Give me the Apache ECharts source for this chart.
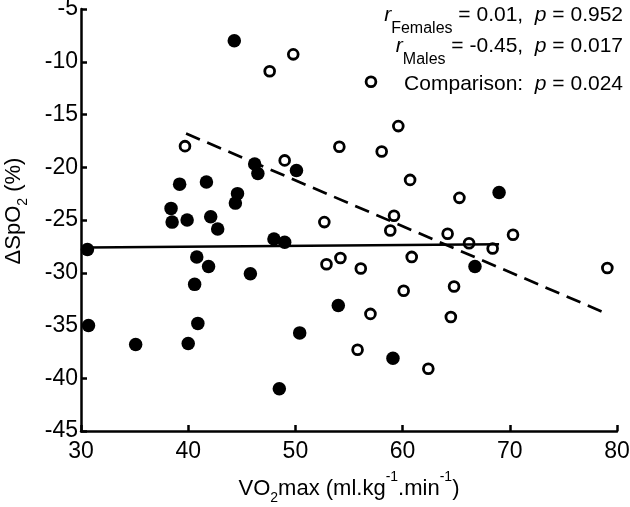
<!DOCTYPE html>
<html>
<head>
<meta charset="utf-8">
<script src="https://cdn.jsdelivr.net/npm/echarts@6/dist/echarts.min.js"></script>
<style>html,body{margin:0;padding:0;background:#fff}#c{width:630px;height:507px}</style>
</head>
<body>
<div id="c"></div>
<script>
// Females (filled circles)
var femaleVO2 = [44.3, 30.6, 30.7, 35.1, 39.2, 38.4, 38.5, 39.9, 41.7, 42.1, 42.75, 44.6, 44.4, 46.2, 46.5, 40.8, 41.9, 40.6, 45.8, 40.0, 40.9, 48.5, 50.4, 54.0, 59.1, 50.1, 48.0, 49.0, 69.0, 66.75];
var femaleSpO2 = [-8.0, -27.8, -35.0, -36.8, -21.6, -23.9, -25.2, -25.0, -21.4, -24.7, -25.85, -22.5, -23.4, -19.7, -20.6, -28.5, -29.4, -31.1, -30.1, -36.7, -34.8, -41.0, -35.7, -33.1, -38.1, -20.3, -26.8, -27.1, -22.4, -29.4];
// Males (open circles)
var maleVO2 = [39.7, 47.6, 49.8, 57.05, 59.6, 54.1, 58.05, 60.7, 65.3, 49.0, 52.7, 59.2, 58.85, 52.9, 54.2, 56.1, 60.85, 60.1, 64.2, 66.2, 68.4, 70.3, 64.8, 79.1, 64.5, 57.0, 55.8, 62.4];
var maleSpO2 = [-18.0, -10.9, -9.3, -11.9, -16.1, -18.05, -18.5, -21.2, -22.9, -19.35, -25.2, -24.6, -26.0, -29.2, -28.6, -29.6, -28.5, -31.7, -26.3, -27.2, -27.7, -26.4, -31.3, -29.55, -34.2, -33.9, -37.3, -39.1];
// Regression line end points
var femaleFitX = [30.6, 69.0];
var femaleFitY = [-27.6, -27.3];
var maleFitX = [39.8, 79.1];
var maleFitY = [-16.8, -33.9];
// Axis ticks
var xTicks = [30, 40, 50, 60, 70, 80];
var yTicks = [-45, -40, -35, -30, -25, -20, -15, -10, -5];
// Annotation texts
var statFemales = ['Females', '0.01', '0.952'];
var statMales = ['Males', '-0.45', '0.017'];
var statComparison = '0.024';

function zip(a, b) { return a.map(function (v, i) { return [v, b[i]]; }); }
var FF = '"Liberation Sans", Arial, Helvetica, sans-serif';
var chart = echarts.init(document.getElementById('c'), null, {renderer: 'canvas'});

var richAnno = {
  n: {fontFamily: FF, fontSize: 21, color: '#000', lineHeight: 40, verticalAlign: 'top'},
  i: {fontFamily: FF, fontSize: 21, fontStyle: 'italic', color: '#000', lineHeight: 40, verticalAlign: 'top'},
  sub: {fontFamily: FF, fontSize: 16, color: '#000', lineHeight: 40, verticalAlign: 'top', padding: [16, 0, 0, 0]}
};

chart.setOption({
  animation: false,
  backgroundColor: '#fff',
  grid: {left: 81, right: 13, top: 9, bottom: 76, containLabel: false, outerBoundsMode: 'none'},
  xAxis: {
    type: 'value', min: xTicks[0], max: xTicks[xTicks.length - 1], interval: 10,
    axisLine: {onZero: false, lineStyle: {color: '#000', width: 2.5}},
    axisTick: {inside: true, length: 6, lineStyle: {color: '#000', width: 2.5}},
    axisLabel: {color: '#000', fontFamily: FF, fontSize: 23, margin: 9},
    splitLine: {show: false},
    name: '{n|VO}{sub|2}{n|max (ml.kg}{sup|-1}{n|.min}{sup|-1}{n|)}',
    nameLocation: 'middle', nameGap: 37,
    nameTextStyle: {
      fontFamily: FF, fontSize: 22, color: '#000',
      rich: {
        n: {fontFamily: FF, fontSize: 22, color: '#000', lineHeight: 44, verticalAlign: 'top', padding: [10, 0, 0, 0]},
        sub: {fontFamily: FF, fontSize: 14, color: '#000', lineHeight: 44, verticalAlign: 'top', padding: [23, 0, 0, 0]},
        sup: {fontFamily: FF, fontSize: 14, color: '#000', lineHeight: 44, verticalAlign: 'top', padding: [2, 0, 0, 0]}
      }
    }
  },
  yAxis: {
    type: 'value', min: yTicks[0], max: yTicks[yTicks.length - 1], interval: 5,
    axisLine: {show: true, onZero: false, lineStyle: {color: '#000', width: 2.5}},
    axisTick: {show: true, inside: true, length: 6, lineStyle: {color: '#000', width: 2.5}},
    axisLabel: {color: '#000', fontFamily: FF, fontSize: 23, margin: 3},
    splitLine: {show: false},
    name: '{s|ΔSpO}{sub|2}{n| (%)}',
    nameLocation: 'middle', nameGap: 38,
    nameTextStyle: {
      fontFamily: FF, fontSize: 22, color: '#000',
      rich: {
        s: {fontFamily: FF, fontSize: 22, color: '#000', lineHeight: 40, verticalAlign: 'top', padding: [0, 0, 0, 18]},
        n: {fontFamily: FF, fontSize: 22, color: '#000', lineHeight: 40, verticalAlign: 'top'},
        sub: {fontFamily: FF, fontSize: 14, color: '#000', lineHeight: 40, verticalAlign: 'top', padding: [13, 0, 0, 0]}
      }
    }
  },
  series: [
    {
      type: 'scatter', name: 'Females', data: zip(femaleVO2, femaleSpO2),
      symbol: 'circle', symbolSize: 13.5, z: 2,
      itemStyle: {color: '#000', opacity: 1}
    },
    {
      type: 'scatter', name: 'Males', data: zip(maleVO2, maleSpO2),
      symbol: 'circle', symbolSize: 9.8, z: 2,
      itemStyle: {color: '#fff', borderColor: '#000', borderWidth: 2.8, opacity: 1}
    },
    {
      type: 'line', data: zip(femaleFitX, femaleFitY), symbol: 'none', z: 3,
      lineStyle: {color: '#000', width: 2.5, type: 'solid'}
    },
    {
      type: 'line', data: zip(maleFitX, maleFitY), symbol: 'none', z: 3,
      lineStyle: {color: '#000', width: 2.7, type: [15, 8]}
    }
  ],
  graphic: [
    {type: 'text', right: 7, top: 5, z: 10,
     style: {text: '{i|r}{sub|' + statFemales[0] + '}{n| = ' + statFemales[1] + ',  }{i|p}{n| = ' + statFemales[2] + '}', rich: richAnno}},
    {type: 'text', right: 7, top: 36, z: 10,
     style: {text: '{i|r}{sub|' + statMales[0] + '}{n| = ' + statMales[1] + ',  }{i|p}{n| = ' + statMales[2] + '}', rich: richAnno}},
    {type: 'text', right: 7, top: 74, z: 10,
     style: {text: '{n|Comparison:  }{i|p}{n| = ' + statComparison + '}', rich: richAnno}}
  ]
});
</script>
</body>
</html>
